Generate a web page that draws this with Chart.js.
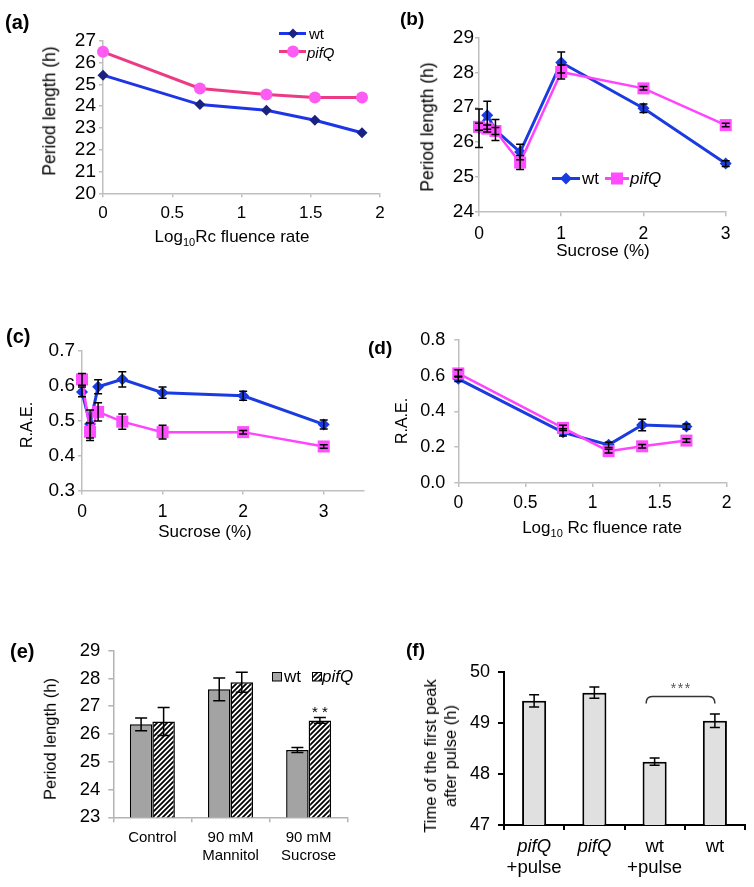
<!DOCTYPE html>
<html><head><meta charset="utf-8">
<script src="https://cdn.jsdelivr.net/npm/chart.js@4.4.1/dist/chart.umd.min.js"></script>
<style>
html,body{margin:0;padding:0;background:#fff;}
#page{position:relative;width:754px;height:887px;overflow:hidden;font-family:'Liberation Sans',Arial,sans-serif;color:#000;}
canvas{position:absolute;}
.t{position:absolute;white-space:nowrap;line-height:1;}
.c{transform:translate(-50%,-50%);}
.m{transform:translateY(-50%);}
.r{transform:translate(-50%,-50%) rotate(-90deg);text-align:center;}
.lab{position:absolute;font-weight:bold;font-size:20px;line-height:1;}
svg{position:absolute;overflow:visible;}
sub{font-size:11px;vertical-align:-4px;line-height:0;}
</style></head>
<body><div id="page">
<canvas id="ca"></canvas><canvas id="cb"></canvas><canvas id="cc"></canvas>
<canvas id="cd"></canvas><canvas id="ce"></canvas><canvas id="cf"></canvas>

<div class="lab" style="left:5px;top:12px">(a)</div>
<div class="lab" style="left:400px;top:9px;font-size:19px">(b)</div>
<div class="lab" style="left:6px;top:326px">(c)</div>
<div class="lab" style="left:368px;top:338px;font-size:19px">(d)</div>
<div class="lab" style="left:10px;top:641px">(e)</div>
<div class="lab" style="left:406px;top:640px;font-size:19px">(f)</div>

<!-- axis titles -->
<div class="t r" style="left:50px;top:111px;font-size:17.5px">Period length (h)</div>
<div class="t c" style="left:232px;top:236px;font-size:17px">Log<sub>10</sub>Rc fluence rate</div>
<div class="t r" style="left:428px;top:127px;font-size:17.5px">Period length (h)</div>
<div class="t c" style="left:603px;top:250px;font-size:17px">Sucrose (%)</div>
<div class="t r" style="left:27px;top:425px;font-size:16px">R.A.E.</div>
<div class="t c" style="left:205px;top:531px;font-size:17px">Sucrose (%)</div>
<div class="t r" style="left:402px;top:421px;font-size:16px">R.A.E.</div>
<div class="t c" style="left:602px;top:527px;font-size:17px">Log<sub>10</sub> Rc fluence rate</div>
<div class="t r" style="left:50px;top:739px;font-size:16.5px">Period length (h)</div>
<div class="t r" style="left:440px;top:756px;font-size:16.5px;line-height:20px">Time of the first peak<br>after pulse (h)</div>

<!-- legend (a) -->
<svg style="left:279px;top:27px" width="27" height="13"><line x1="0" y1="6.5" x2="27" y2="6.5" stroke="#1d35e6" stroke-width="3"/><polygon points="14,1.5 19,6.5 14,11.5 9,6.5" fill="#1b2380"/></svg>
<div class="t m" style="left:309px;top:33px;font-size:15px">wt</div>
<svg style="left:279px;top:45px" width="27" height="13"><line x1="0" y1="6.5" x2="27" y2="6.5" stroke="#ec3a84" stroke-width="3"/><circle cx="14" cy="6.5" r="6" fill="#fd5cf2"/></svg>
<div class="t m" style="left:307px;top:51.5px;font-size:15px;font-style:italic">pifQ</div>
<!-- legend (b) -->
<svg style="left:552px;top:172px" width="28" height="13"><line x1="0" y1="6.5" x2="28" y2="6.5" stroke="#1a3be0" stroke-width="3"/><polygon points="14,0.5 20,6.5 14,12.5 8,6.5" fill="#1a3be0"/></svg>
<div class="t m" style="left:582px;top:178px;font-size:17px">wt</div>
<svg style="left:605px;top:172px" width="24" height="13"><line x1="0" y1="6.5" x2="24" y2="6.5" stroke="#ff44ff" stroke-width="3"/><rect x="6" y="0.5" width="12" height="12" fill="#ff4dff"/></svg>
<div class="t m" style="left:630px;top:178px;font-size:17px;font-style:italic">pifQ</div>
<!-- legend (e) -->
<svg style="left:272px;top:671.5px" width="10" height="9"><rect x="0.5" y="0.5" width="9" height="8.5" fill="#a6a6a6" stroke="#000" stroke-width="1"/></svg>
<div class="t m" style="left:284px;top:676px;font-size:17px">wt</div>
<svg style="left:311.5px;top:671.5px" width="10" height="9"><defs><pattern id="hp" width="3.5" height="3.5" patternUnits="userSpaceOnUse" patternTransform="rotate(45)"><rect width="3.5" height="3.5" fill="#fff"/><rect width="1.6" height="3.5" fill="#000"/></pattern></defs><rect x="0.5" y="0.5" width="9" height="8.5" fill="url(#hp)" stroke="#000" stroke-width="1"/></svg>
<div class="t m" style="left:322px;top:676px;font-size:17px;font-style:italic">pifQ</div>
</div>

<script>
// ---------------- data ----------------
// (a) period vs log10 Rc fluence rate
const aFluence = [0, 0.70, 1.18, 1.53, 1.87];
const aWt      = [25.42, 24.07, 23.81, 23.35, 22.78];
const aPifQ    = [26.49, 24.81, 24.53, 24.39, 24.39];
const aXTicks  = [0, 0.5, 1, 1.5, 2];
const aXLabels = ['0', '0.5', '1', '1.5', '2'];
const aYTicks  = [20, 21, 22, 23, 24, 25, 26, 27];
const aYLabels = ['20', '21', '22', '23', '24', '25', '26', '27'];

// (b) period vs sucrose
const bSucrose  = [0, 0.1, 0.2, 0.5, 1, 2, 3];
const bWt       = [26.40, 26.77, 26.35, 25.72, 28.28, 26.97, 25.39];
const bWtErr    = [0.55, 0.40, 0.30, 0.22, 0.30, 0.12, 0.08];
const bPifQ     = [26.44, 26.39, 26.32, 25.42, 28.01, 27.54, 26.49];
const bPifQErr  = [0.10, 0.10, 0.10, 0.20, 0.20, 0.05, 0.05];
const bXTicks   = [0, 1, 2, 3];
const bXLabels  = ['0', '1', '2', '3'];
const bYTicks   = [24, 25, 26, 27, 28, 29];
const bYLabels  = ['24', '25', '26', '27', '28', '29'];

// (c) R.A.E. vs sucrose
const cSucrose  = [0, 0.1, 0.2, 0.5, 1, 2, 3];
const cWt       = [0.582, 0.490, 0.597, 0.618, 0.580, 0.571, 0.489];
const cWtErr    = [0.014, 0.040, 0.020, 0.022, 0.016, 0.013, 0.013];
const cPifQ     = [0.618, 0.468, 0.525, 0.497, 0.467, 0.467, 0.426];
const cPifQErr  = [0.017, 0.025, 0.026, 0.022, 0.020, 0.005, 0.005];
const cXTicks   = [0, 1, 2, 3];
const cXLabels  = ['0', '1', '2', '3'];
const cXMax     = 3.5;
const cYTicks   = [0.3, 0.4, 0.5, 0.6, 0.7];
const cYLabels  = ['0.3', '0.4', '0.5', '0.6', '0.7'];

// (d) R.A.E. vs log10 Rc fluence rate
const dFluence  = [0, 0.78, 1.12, 1.37, 1.70];
const dWt       = [0.582, 0.283, 0.213, 0.324, 0.315];
const dWtErr    = [0.015, 0.020, 0.015, 0.032, 0.015];
const dPifQ     = [0.612, 0.308, 0.178, 0.205, 0.237];
const dPifQErr  = [0.020, 0.015, 0.010, 0.010, 0.010];
const dXTicks   = [0, 0.5, 1, 1.5, 2];
const dXLabels  = ['0', '0.5', '1', '1.5', '2'];
const dYTicks   = [0, 0.2, 0.4, 0.6, 0.8];
const dYLabels  = ['0.0', '0.2', '0.4', '0.6', '0.8'];

// (e) period, osmotic control
const eCats     = ['Control', ['90 mM', 'Mannitol'], ['90 mM', 'Sucrose']];
const eWt       = [26.35, 27.61, 25.42];
const eWtErr    = [0.23, 0.41, 0.09];
const ePifQ     = [26.45, 27.86, 26.49];
const ePifQErr  = [0.50, 0.36, 0.10];
const ePifQSig  = ['', '', '**'];
const eYTicks   = [23, 24, 25, 26, 27, 28, 29];
const eYLabels  = ['23', '24', '25', '26', '27', '28', '29'];

// (f) time of first peak after pulse
const fCats     = [['pifQ', '+pulse'], ['pifQ'], ['wt', '+pulse'], ['wt']];
const fItalic   = ['pifQ'];
const fValues   = [49.43, 49.59, 48.24, 49.04];
const fErr      = [0.12, 0.11, 0.07, 0.13];
const fSigPair  = [2, 3];
const fSigText  = '***';
const fYTicks   = [47, 48, 49, 50];
const fYLabels  = ['47', '48', '49', '50'];

// ---------------- helpers ----------------
const FONT = "'Liberation Sans', Arial, sans-serif";
Chart.defaults.font.family = FONT;
Chart.defaults.color = '#000';

const errorBars = {
  id: 'errorBars',
  afterDatasetsDraw(chart, args, o) {
    const ctx = chart.ctx, ys = chart.scales.y;
    chart.data.datasets.forEach((ds, di) => {
      if (!ds.errors) return;
      const meta = chart.getDatasetMeta(di);
      meta.data.forEach((el, i) => {
        const raw = ds.data[i];
        const v = (typeof raw === 'object') ? raw.y : raw;
        const e = ds.errors[i];
        if (!e) return;
        const x = el.x, y1 = ys.getPixelForValue(v + e), y2 = ys.getPixelForValue(v - e);
        ctx.save();
        ctx.strokeStyle = o.color || '#000';
        ctx.lineWidth = o.width || 1.5;
        ctx.beginPath();
        ctx.moveTo(x, y1); ctx.lineTo(x, y2);
        ctx.moveTo(x - o.cap, y1); ctx.lineTo(x + o.cap, y1);
        ctx.moveTo(x - o.cap, y2); ctx.lineTo(x + o.cap, y2);
        ctx.stroke();
        ctx.restore();
      });
    });
  }
};

function drawStars(ctx, text, cx, baseY, size, gap, color) {
  const chars = text.split('');
  ctx.save();
  ctx.font = size + 'px ' + FONT;
  ctx.fillStyle = color;
  ctx.textAlign = 'center';
  ctx.textBaseline = 'alphabetic';
  chars.forEach((ch, k) => ctx.fillText(ch, cx + (k - (chars.length - 1) / 2) * gap, baseY));
  ctx.restore();
}

const sigStars = {
  id: 'sigStars',
  afterDatasetsDraw(chart, args, o) {
    const ys = chart.scales.y;
    const ds = chart.data.datasets[o.dataset];
    const meta = chart.getDatasetMeta(o.dataset);
    o.marks.forEach((m, i) => {
      if (!m) return;
      const top = ys.getPixelForValue(ds.data[i] + ds.errors[i]);
      drawStars(chart.ctx, m, meta.data[i].x, top - 1, 15, 10, '#000');
    });
  }
};

const bracket = {
  id: 'bracket',
  afterDatasetsDraw(chart, args, o) {
    const ctx = chart.ctx, xs = chart.scales.x, ys = chart.scales.y;
    const ds = chart.data.datasets[0];
    const [a, b] = o.pair;
    const top = Math.max(ds.data[a] + ds.errors[a], ds.data[b] + ds.errors[b]);
    const yb = ys.getPixelForValue(top) - 17.5;
    const x1 = xs.getPixelForValue(a) - 8.5, x2 = xs.getPixelForValue(b);
    ctx.save();
    ctx.strokeStyle = '#333';
    ctx.lineWidth = 1.5;
    ctx.beginPath();
    ctx.moveTo(x1, yb + 7);
    ctx.quadraticCurveTo(x1, yb, x1 + 6, yb);
    ctx.lineTo(x2 - 6, yb);
    ctx.quadraticCurveTo(x2, yb, x2, yb + 7);
    ctx.stroke();
    ctx.restore();
    drawStars(ctx, o.text, (x1 + x2) / 2, yb - 4, 14, 7, '#555');
  }
};

const catLabels = {
  id: 'catLabels',
  afterDraw(chart, args, o) {
    const ctx = chart.ctx, xs = chart.scales.x;
    o.labels.forEach((lines, i) => {
      const x = xs.getPixelForValue(i);
      lines.forEach((t, j) => {
        ctx.save();
        ctx.font = (o.italic.includes(t) ? 'italic ' : '') + o.size + 'px ' + FONT;
        ctx.fillStyle = '#000';
        ctx.textAlign = 'center';
        ctx.textBaseline = 'middle';
        ctx.fillText(t, x, xs.top + o.first + j * o.gap);
        ctx.restore();
      });
    });
  }
};

function linAxis(vals, labels, o) {
  return {
    type: 'linear',
    min: (o.min !== undefined) ? o.min : vals[0],
    max: (o.max !== undefined) ? o.max : vals[vals.length - 1],
    afterBuildTicks: s => { s.ticks = vals.map(v => ({ value: v })); },
    ticks: { autoSkip: false, maxRotation: 0, padding: o.pad, font: { size: o.size }, color: '#000',
             callback: (v, i) => labels[i] },
    grid: { display: true, drawOnChartArea: false, drawTicks: true, tickLength: o.tl, color: o.color, lineWidth: o.lw },
    border: { display: true, color: o.color, width: o.lw }
  };
}

function build(id, box, plot, xH, cfg) {
  const cv = document.getElementById(id);
  cv.width = box.w; cv.height = box.h;
  cv.style.left = box.x + 'px'; cv.style.top = box.y + 'px';
  cv.style.width = box.w + 'px'; cv.style.height = box.h + 'px';
  const padL = 4;
  const yW = plot.L - box.x - padL;
  cfg.options = cfg.options || {};
  cfg.options.responsive = false;
  cfg.options.maintainAspectRatio = false;
  cfg.options.animation = false;
  cfg.options.devicePixelRatio = 1;
  cfg.options.layout = { padding: { left: padL, top: plot.T - box.y, right: box.x + box.w - plot.R, bottom: box.y + box.h - plot.B - xH } };
  cfg.options.scales.x.afterFit = s => { s.height = xH; };
  cfg.options.scales.y.afterFit = s => { s.width = yW; };
  cfg.options.plugins = Object.assign({ legend: { display: false }, tooltip: { enabled: false } }, cfg.options.plugins || {});
  return new Chart(cv, cfg);
}

const pts = (xs, ys) => xs.map((x, i) => ({ x: x, y: ys[i] }));
const GRAY = '#bfbfbf';
const BLUE = '#1a3be0';
const MAG = '#ff44ff';

// ---------------- (a) ----------------
build('ca', { x: 0, y: 20, w: 394, h: 230 }, { L: 103, T: 40.7, R: 380, B: 193.3 }, 35, {
  type: 'line',
  data: { datasets: [
    { label: 'wt', data: pts(aFluence, aWt), borderColor: '#1d35e6', borderWidth: 3, tension: 0, clip: false,
      pointStyle: 'rectRot', pointRadius: 5.5, pointBackgroundColor: '#1b2380', pointBorderWidth: 0, order: 2 },
    { label: 'pifQ', data: pts(aFluence, aPifQ), borderColor: '#ec3a84', borderWidth: 3, tension: 0, clip: false,
      pointStyle: 'circle', pointRadius: 6, pointBackgroundColor: '#fd5cf2', pointBorderWidth: 0, order: 1 }
  ] },
  options: { scales: {
    x: linAxis(aXTicks, aXLabels, { pad: 6, size: 17, tl: 4, color: GRAY, lw: 1.5 }),
    y: linAxis(aYTicks, aYLabels, { pad: 3, size: 19, tl: 4, color: GRAY, lw: 1.5 })
  } }
});

// ---------------- (b) ----------------
build('cb', { x: 392, y: 18, w: 362, h: 235 }, { L: 479, T: 37.3, R: 725.7, B: 212.2 }, 35, {
  type: 'line',
  data: { datasets: [
    { label: 'wt', data: pts(bSucrose, bWt), errors: bWtErr, borderColor: BLUE, borderWidth: 3, tension: 0, clip: false,
      pointStyle: 'rectRot', pointRadius: 6, pointBackgroundColor: BLUE, pointBorderWidth: 0, order: 2 },
    { label: 'pifQ', data: pts(bSucrose, bPifQ), errors: bPifQErr, borderColor: MAG, borderWidth: 2.5, tension: 0, clip: false,
      pointStyle: 'rect', pointRadius: 8.5, pointBackgroundColor: '#ff4dff', pointBorderWidth: 0, order: 1 }
  ] },
  options: {
    scales: {
      x: linAxis(bXTicks, bXLabels, { pad: 7, size: 17.5, tl: 4, color: GRAY, lw: 1.5 }),
      y: linAxis(bYTicks, bYLabels, { pad: 1, size: 19, tl: 4, color: GRAY, lw: 1.5 })
    },
    plugins: { errorBars: { cap: 4, width: 1.5, color: '#000' } }
  },
  plugins: [errorBars]
});

// ---------------- (c) ----------------
build('cc', { x: 0, y: 330, w: 380, h: 200 }, { L: 82, T: 350.7, R: 364, B: 490.5 }, 35, {
  type: 'line',
  data: { datasets: [
    { label: 'wt', data: pts(cSucrose, cWt), errors: cWtErr, borderColor: BLUE, borderWidth: 3, tension: 0, clip: false,
      pointStyle: 'rectRot', pointRadius: 6, pointBackgroundColor: BLUE, pointBorderWidth: 0, order: 2 },
    { label: 'pifQ', data: pts(cSucrose, cPifQ), errors: cPifQErr, borderColor: MAG, borderWidth: 2.5, tension: 0, clip: false,
      pointStyle: 'rect', pointRadius: 8.5, pointBackgroundColor: '#ff4dff', pointBorderWidth: 0, order: 1 }
  ] },
  options: {
    scales: {
      x: linAxis(cXTicks, cXLabels, { max: cXMax, pad: 7, size: 17.5, tl: 4, color: GRAY, lw: 1.5 }),
      y: linAxis(cYTicks, cYLabels, { pad: 3, size: 19, tl: 4, color: GRAY, lw: 1.5 })
    },
    plugins: { errorBars: { cap: 4, width: 1.5, color: '#000' } }
  },
  plugins: [errorBars]
});

// ---------------- (d) ----------------
build('cd', { x: 392, y: 320, w: 362, h: 200 }, { L: 458.3, T: 339.3, R: 726.7, B: 483 }, 35, {
  type: 'line',
  data: { datasets: [
    { label: 'wt', data: pts(dFluence, dWt), errors: dWtErr, borderColor: BLUE, borderWidth: 3, tension: 0, clip: false,
      pointStyle: 'rectRot', pointRadius: 6, pointBackgroundColor: BLUE, pointBorderWidth: 0, order: 2 },
    { label: 'pifQ', data: pts(dFluence, dPifQ), errors: dPifQErr, borderColor: MAG, borderWidth: 2.5, tension: 0, clip: false,
      pointStyle: 'rect', pointRadius: 8.5, pointBackgroundColor: '#ff4dff', pointBorderWidth: 0, order: 1 }
  ] },
  options: {
    scales: {
      x: linAxis(dXTicks, dXLabels, { pad: 6, size: 17.5, tl: 4, color: GRAY, lw: 1.5 }),
      y: linAxis(dYTicks, dYLabels, { pad: 9, size: 18, tl: 4, color: GRAY, lw: 1.5 })
    },
    plugins: { errorBars: { cap: 4, width: 1.5, color: '#000' } }
  },
  plugins: [errorBars]
});

// ---------------- (e) ----------------
const hatch = (() => {
  const c = document.createElement('canvas');
  const s = 5;
  c.width = s; c.height = s;
  const g = c.getContext('2d');
  g.fillStyle = '#fff'; g.fillRect(0, 0, s, s);
  g.strokeStyle = '#000'; g.lineWidth = 1.8;
  g.beginPath();
  g.moveTo(-1, s + 1); g.lineTo(s + 1, -1);
  g.moveTo(-1, 1); g.lineTo(1, -1);
  g.moveTo(s - 1, s + 1); g.lineTo(s + 1, s - 1);
  g.stroke();
  return g.createPattern(c, 'repeat');
})();

build('ce', { x: 0, y: 630, w: 380, h: 257 }, { L: 113.3, T: 650.7, R: 347.7, B: 817.3 }, 60, {
  type: 'bar',
  data: { labels: eCats, datasets: [
    { label: 'wt', data: eWt, errors: eWtErr, backgroundColor: '#a3a3a3', borderColor: '#000', borderWidth: 1.5,
      categoryPercentage: 0.576, barPercentage: 1.0 },
    { label: 'pifQ', data: ePifQ, errors: ePifQErr, backgroundColor: hatch, borderColor: '#000', borderWidth: 1.5,
      categoryPercentage: 0.576, barPercentage: 1.0 }
  ] },
  options: {
    scales: {
      x: { type: 'category', offset: true,
           grid: { display: true, offset: true, drawOnChartArea: false, drawTicks: true, tickLength: 5, color: '#b3b3b3', lineWidth: 1.5 },
           border: { display: true, color: '#b3b3b3', width: 1.5 },
           ticks: { padding: 6.7, font: { size: 15 }, color: '#000', maxRotation: 0, autoSkip: false } },
      y: linAxis(eYTicks, eYLabels, { pad: 8, size: 18.5, tl: 5, color: '#b3b3b3', lw: 1.5 })
    },
    plugins: { errorBars: { cap: 6, width: 1.5, color: '#000' }, sigStars: { dataset: 1, marks: ePifQSig } }
  },
  plugins: [errorBars, sigStars]
});

// ---------------- (f) ----------------
build('cf', { x: 392, y: 650, w: 362, h: 237 }, { L: 504, T: 671.7, R: 745, B: 825 }, 50, {
  type: 'bar',
  data: { labels: fCats.map(l => l.join(' ')), datasets: [
    { label: 'time', data: fValues, errors: fErr, backgroundColor: '#e0e0e0', borderColor: '#000', borderWidth: 2,
      categoryPercentage: 1.0, barPercentage: 0.4 }
  ] },
  options: {
    scales: {
      x: { type: 'category', offset: true,
           grid: { display: true, offset: true, drawOnChartArea: false, drawTicks: true, tickLength: 5, color: '#000', lineWidth: 2 },
           border: { display: true, color: '#000', width: 2 },
           ticks: { display: false } },
      y: linAxis(fYTicks, fYLabels, { pad: 8, size: 18, tl: 6, color: '#000', lw: 2 })
    },
    plugins: {
      errorBars: { cap: 5, width: 1.5, color: '#000' },
      bracket: { pair: fSigPair, text: fSigText },
      catLabels: { labels: fCats, italic: fItalic, size: 18.5, first: 21.7, gap: 21.6 }
    }
  },
  plugins: [errorBars, bracket, catLabels]
});
</script>
</body></html>
